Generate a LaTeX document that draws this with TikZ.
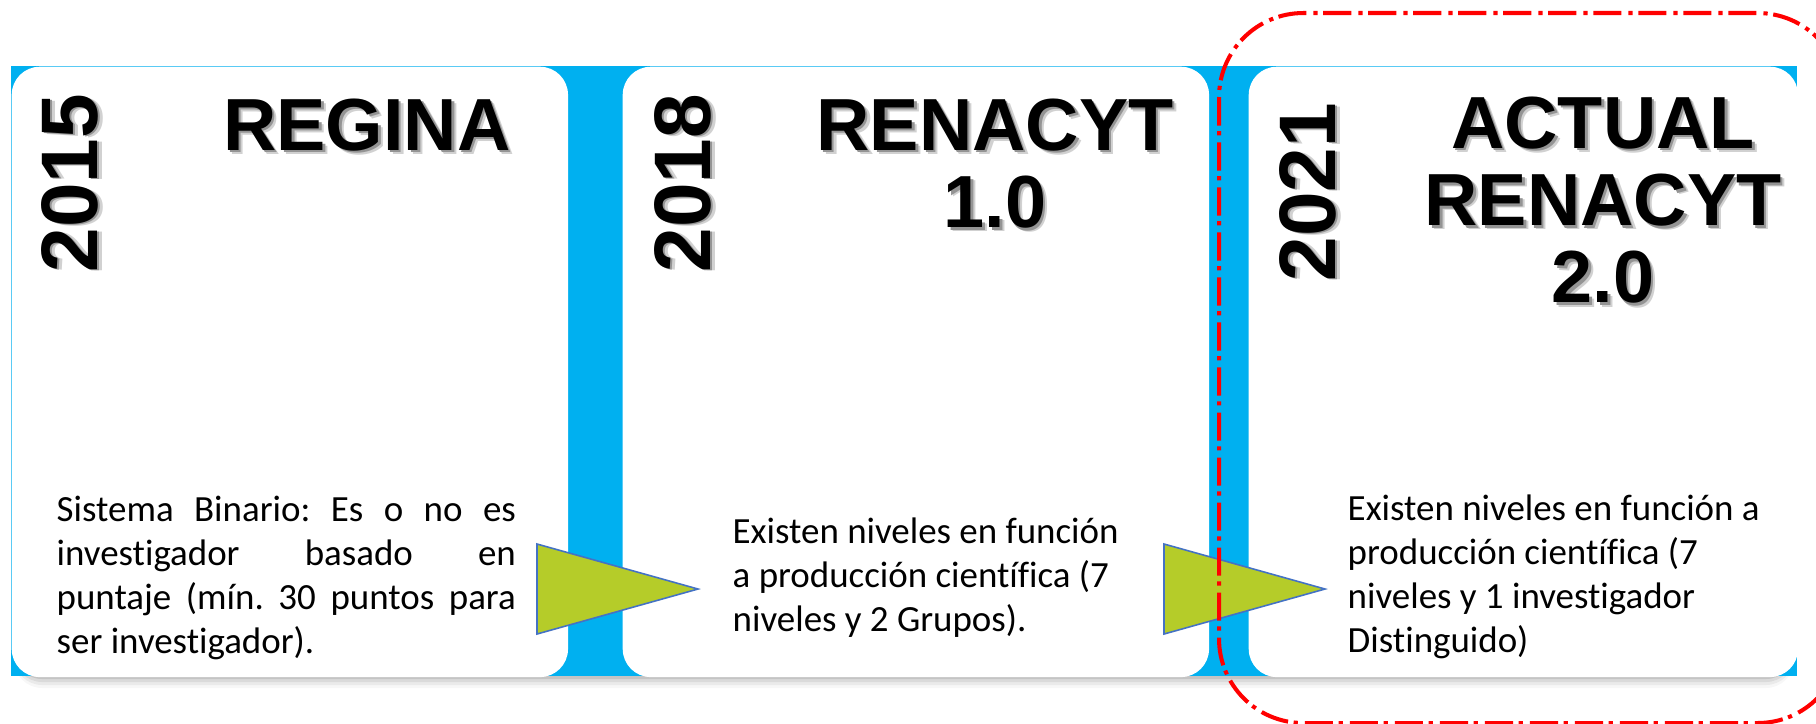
\documentclass[tikz,border=0pt]{standalone}
\usepackage{fontspec}
\setmainfont{Carlito}[Ligatures={NoCommon}]
\newfontfamily\hdfont{Liberation Sans}
\frenchspacing
\definecolor{bandblue}{HTML}{00B0F0}
\definecolor{trigreen}{HTML}{B5CC29}
\definecolor{triblue}{HTML}{4472C4}
\newcommand{\shd}[1]{\leavevmode\rlap{\kern1.3pt\raisebox{-1.3pt}{\color{black!18}#1}}\rlap{\kern0.7pt\raisebox{-0.8pt}{\color{black!42}#1}}#1}
\newcommand{\shy}[1]{\leavevmode\rlap{\kern-0.5pt\raisebox{-1.4pt}{\color{black!18}#1}}\rlap{\kern-0.3pt\raisebox{-0.8pt}{\color{black!42}#1}}#1}
\begin{document}
\begin{tikzpicture}[x=0.01cm, y=-0.01cm,
  card/.style={draw=none, fill=white, rounded corners=8pt, inner sep=0pt, anchor=north west, minimum height=6.10cm},
  title/.style={font=\hdfont\bfseries\fontsize{21}{22}\selectfont, inner sep=0pt, anchor=base},
  year/.style={font=\hdfont\bfseries\fontsize{22.8}{24}\selectfont, inner sep=0pt, rotate=90},
  body/.style={font=\fontsize{10.5}{12.6}\selectfont, inner sep=0pt, anchor=base west},
  tri/.style={fill=trigreen, draw=triblue, line width=0.45pt, line join=miter},
  redline/.style={draw=red, line width=1.15pt, dash pattern=on 8pt off 1.6pt on 1.2pt off 2pt},
]
\useasboundingbox (0,0) rectangle (1816,723);
% shadow under the band
\foreach \k/\o in {3/0.10, 6/0.07, 9/0.05, 12/0.03}
  \fill[black, opacity=\o, rounded corners=8pt] (14,{66+\k}) rectangle (1794,{676+\k});
% blue band
\fill[bandblue] (11,66) rectangle (1797,676);
% cards
\node[card, minimum width=5.56cm] (c1) at (11,66) {};
\node[card, minimum width=5.86cm] (c2) at (622,66) {};
\node[card, minimum width=5.49cm] (c3) at (1248,66) {};
% years
\node[year] (y1) at (72,183) {\shy{2015}};
\node[year] (y2) at (685,183) {\shy{2018}};
\node[year] (y3) at (1310,192) {\shy{2021}};
% titles
\node[title] (t1) at (367,150) {\shd{REGINA}};
\node[title] (t2) at (995,150) {\parbox[t]{5.6cm}{\centering\shd{RENACYT}\\\shd{1.0}}};
\node[title] (t3) at (1603,148) {\parbox[t]{5.4cm}{\centering\shd{ACTUAL}\\\shd{RENACYT}\\\shd{2.0}}};
% body texts
\node[body] (b1) at (56,521) {\parbox[t]{4.59cm}{%
  \makebox[4.59cm][s]{Sistema Binario: Es o no es}\\
  \makebox[4.59cm][s]{investigador basado en}\\
  \makebox[4.59cm][s]{puntaje (mín. 30 puntos para}\\
  ser investigador).}};
\node[body] (b2) at (732,543) {\parbox[t]{4.5cm}{\raggedright
  Existen niveles en función\\
  a producción científica (7\\
  niveles y 2 Grupos).}};
\node[body] (b3) at (1347,520) {\parbox[t]{4.5cm}{\raggedright
  Existen niveles en función a\\
  producción científica (7\\
  niveles y 1 investigador\\
  Distinguido)}};
% arrows (triangles)
\draw[tri] (537,544) -- (698,589) -- (537,634) -- cycle;
\draw[tri] (1164,544) -- (1325,589) -- (1164,634) -- cycle;
% red dash-dot highlight
\draw[redline, rounded corners=24pt] (1219,13) rectangle (1842,723);
\end{tikzpicture}
\end{document}
